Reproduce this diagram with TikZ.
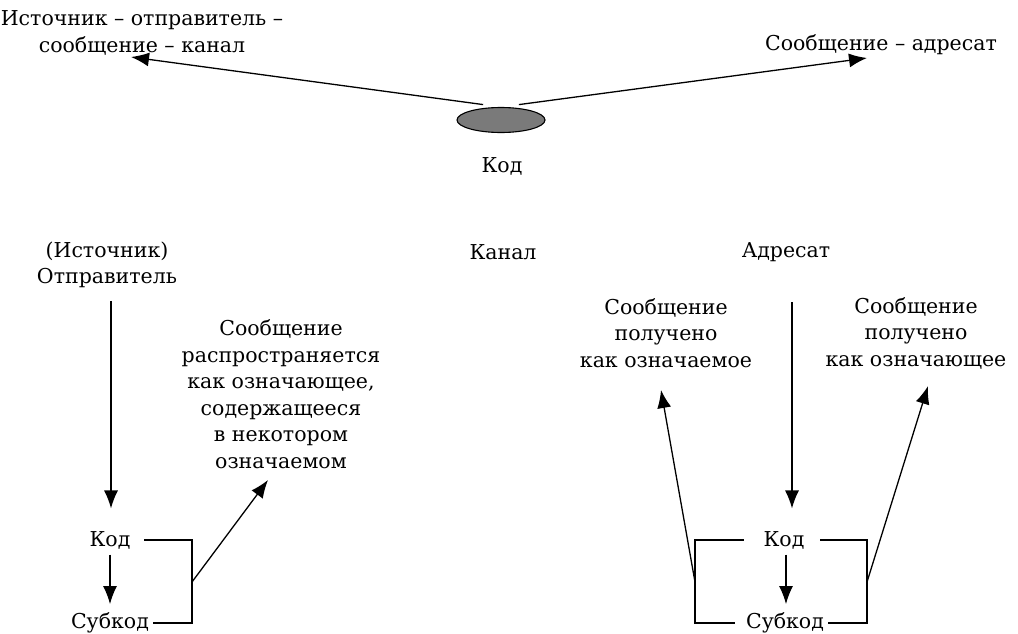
\documentclass[tikz,border=0pt]{standalone}
\usepackage{fontspec}
\setmainfont{DejaVu Serif}
\usepackage{tikz}
\usetikzlibrary{arrows.meta, shapes.geometric}
\tikzset{>={Latex[length=18pt,width=14pt]}}
\definecolor{codegray}{HTML}{7A7A7A}

\begin{document}
\begin{tikzpicture}[x=1pt, y=-1pt, line width=1.3pt,
  txt/.style={font=\fontsize{20.5}{26.5}\selectfont, align=center, inner sep=0pt}]
\useasboundingbox (0,0) rectangle (1018,634);

\node[txt] (src) at (142,33) {Источник – отправитель –\\сообщение – канал};
\node[txt] (dst) at (881,45) {Сообщение – адресат};
\coordinate (tipS) at (131,57);
\coordinate (tipD) at (867,58);
\draw[->, shorten <=18pt] (501,107) -- (tipS);
\draw[->, shorten <=18pt] (501,107) -- (tipD);
\node[ellipse, draw, fill=codegray, line width=1.1pt, minimum width=88pt, minimum height=25pt, inner sep=0pt] (ell) at (501,120) {};
\node[txt] (kod) at (502,166) {Код};

\node[txt] (snd) at (107,265) {(Источник)\\Отправитель};
\node[txt] (kan) at (503,252) {Канал};
\node[txt] (adr) at (786,252) {Адресат};

\node[txt] (kodL) at (110,540) {Код};
\node[txt] (subL) at (110,623) {Субкод};
\node[txt] (msgL) at (281,394) {Сообщение\\распространяется\\как означающее,\\содержащееся\\в некотором\\означаемом};
\coordinate (brL) at (192,582);
\coordinate (tipL) at (268,480);
\draw[->, shorten <=12pt, shorten >=22pt] ([xshift=1pt]kodL.north |- snd.south) -- ([xshift=1pt]kodL.north);
\draw[->, shorten <=5pt, shorten >=8pt] (kodL.south) -- (subL.north);
\draw[shorten <=13pt, shorten >=3pt] (kodL.east) -| (brL) |- (subL.east);
\draw[->] (brL) -- (tipL);

\node[txt] (kodR) at (784,540) {Код};
\node[txt] (subR) at (785,623) {Субкод};
\node[txt] (msgA) at (666,333) {Сообщение\\получено\\как означаемое};
\node[txt] (msgB) at (916,333) {Сообщение\\получено\\как означающее};
\coordinate (brA) at (695,582);
\coordinate (brB) at (867,582);
\coordinate (tipA) at (661,390);
\coordinate (tipB) at (928,386);
\draw[->, shorten <=40pt, shorten >=22pt] ([xshift=6pt]adr.south) -- ([xshift=8pt]kodR.north);
\draw[->, shorten <=5pt, shorten >=8pt] ([xshift=2pt]kodR.south) -- ([xshift=1pt]subR.north);
\draw[shorten <=19pt, shorten >=10pt] (kodR.west) -| (brA) |- (subR.west);
\draw[shorten <=15pt, shorten >=3pt] (kodR.east) -| (brB) |- (subR.east);
\draw[->] (brA) -- (tipA);
\draw[->] (brB) -- (tipB);
\end{tikzpicture}
\end{document}
